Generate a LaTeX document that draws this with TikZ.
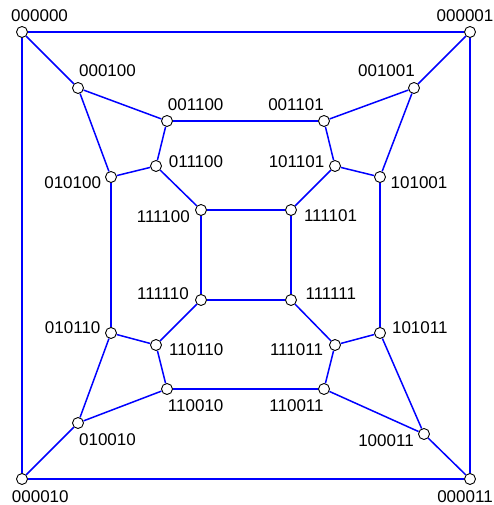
\documentclass[tikz,border=0pt]{standalone}
\usepackage{fontspec}
\setmainfont{Liberation Sans}
\usetikzlibrary{positioning}

\tikzset{
  vtx/.style={circle, draw=black, fill=white, line width=0.9pt, minimum size=11pt, inner sep=0pt},
  lbl/.style={inner sep=0pt, font=\fontsize{17}{20}\selectfont},
  link/.style={draw=blue, line width=1.5pt}
}

\begin{document}
\begin{tikzpicture}[x=1pt, y=1pt]
\useasboundingbox (0,0) rectangle (494,505);
% vertices: x/y/name/label offset
\foreach \x/\y/\n/\dx/\dy in {
  22/473/000000/17.6/16.7, 470/473/000001/-5/16.7,
  22/26/000010/18.3/-17.7, 470/26/000011/-5/-17.7,
  78/417/000100/29.5/17.7, 414/417/001001/-27.5/17,
  167/384/001100/28.7/16, 324/384/001101/-28/16,
  156/339/011100/40/4.7, 335/339/101101/-38.5/4.7,
  111/328/010100/-38.3/-6, 380/328/101001/39/-6,
  201/295/111100/-37.7/-6.4, 291/295/111101/39.5/-5.7,
  201/205/111110/-38/6, 291/205/111111/39.8/6.7,
  111/172/010110/-38.3/5, 380/172/101011/39.8/5,
  156/160/110110/40.3/-5, 335/160/111011/-38.5/-5,
  167/116/110010/28.7/-16.4, 324/116/110011/-27.5/-16.4,
  78/82/010010/29.5/-16.7, 424/71/100011/-38/-6.4}
{
  \node[vtx] (v\n) at (\x,\y) {};
  \node[lbl] (l\n) at (\x+\dx,\y+\dy) {\n};
}
% edges
\foreach \a/\b in {
  000000/000001, 000001/000011, 000011/000010, 000010/000000,
  000000/000100, 000001/001001, 000010/010010, 000011/100011,
  000100/001100, 000100/010100, 001001/001101, 001001/101001,
  001100/001101, 001100/011100, 001101/101101,
  010100/011100, 101101/101001, 011100/111100, 101101/111101,
  111100/111101, 111101/111111, 111111/111110, 111110/111100,
  111110/110110, 111111/111011,
  010100/010110, 101001/101011,
  010110/110110, 010110/010010,
  110110/110010, 111011/110011, 111011/101011,
  110010/110011, 010010/110010, 100011/110011, 101011/100011}
  \draw[link] (v\a) -- (v\b);
\end{tikzpicture}
\end{document}
